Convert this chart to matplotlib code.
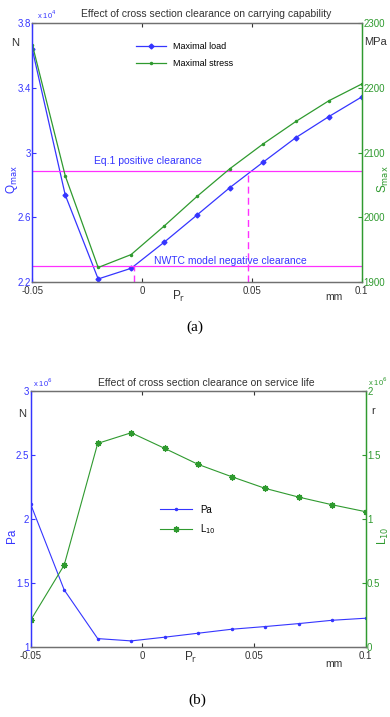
import matplotlib
matplotlib.use("Agg")
import matplotlib.pyplot as plt

plt.rcParams['font.family'] = ['Liberation Sans', 'DejaVu Sans']

# ---- data (a) ----
pr = [-0.05, -0.035, -0.02, -0.005, 0.01, 0.025, 0.04, 0.055, 0.07, 0.085, 0.1]
q_max = [3.639, 2.737, 2.217, 2.283, 2.444, 2.613, 2.783, 2.939, 3.092, 3.222, 3.344]  # x1e4 N
s_max = [2267, 2064, 1922, 1942, 1986, 2032, 2075, 2113, 2148, 2180, 2206]  # MPa
eq1_level = 2.885
nwtc_level = 2.295
eq1_x = 0.0484
nwtc_x = -0.0037

# ---- data (b) ----
pa = [2.116, 1.448, 1.068, 1.050, 1.079, 1.110, 1.141, 1.162, 1.185, 1.211, 1.227]  # x1e6 N
l10 = [0.211, 0.642, 1.591, 1.674, 1.552, 1.427, 1.331, 1.240, 1.172, 1.112, 1.058]  # x1e6 r

xticks = [-0.05, 0, 0.05, 0.1]
xticklabels = ['-0.05', '0', '0.05', '0.1']

BLUE = '#3535ff'
GREEN = '#2f9a2f'
MAG = '#ff30ff'
GRAY = '#707070'
FS = 7

fig = plt.figure(figsize=(3.9, 7.17), dpi=100)


def style(ax, ax2, lc, rc):
    for a in (ax, ax2):
        a.spines['top'].set_color(GRAY)
        a.spines['bottom'].set_color(GRAY)
        a.spines['left'].set_color(lc)
        a.spines['right'].set_color(rc)
        for s in a.spines.values():
            s.set_linewidth(0.9)
    ax.tick_params(axis='y', colors=lc, labelsize=FS, direction='in', length=3, pad=1)
    ax.tick_params(axis='x', colors='#333333', labelsize=FS, direction='in', length=3, pad=3, top=True)
    ax2.tick_params(axis='y', colors=rc, labelsize=FS, direction='in', length=3, pad=1)
    ax.set_xlim(-0.05, 0.1)
    ax.set_xticks(xticks)
    ax.set_xticklabels(xticklabels)


# ---------- (a) ----------
ax = fig.add_axes([0.0828, 0.6071, 0.8446, 0.3604])
ax2 = ax.twinx()
ax.plot(pr, q_max, color=BLUE, lw=0.9, marker='D', ms=2.5, label='Maximal load')
ax2.plot(pr, s_max, color=GREEN, lw=0.9, marker='.', ms=3, label='Maximal stress')
ax.axhline(eq1_level, color=MAG, lw=0.9)
ax.axhline(nwtc_level, color=MAG, lw=0.9)
ax.plot([eq1_x, eq1_x], [2.2, eq1_level], color=MAG, lw=1.0, ls=(0, (5, 3)))
ax.plot([nwtc_x, nwtc_x], [2.2, nwtc_level], color=MAG, lw=1.0, ls=(0, (5, 3)))
ax.set_ylim(2.2, 3.8)
ax.set_yticks([2.2, 2.6, 3.0, 3.4, 3.8])
ax.set_yticklabels(['2.2', '2.6', '3', '3.4', '3.8'])
ax2.set_ylim(1900, 2300)
ax2.set_yticks([1900, 2000, 2100, 2200, 2300])
style(ax, ax2, BLUE, GREEN)
ax.text(-0.022, 2.93, 'Eq.1 positive clearance', color=BLUE, fontsize=7.5)
ax.text(0.0055, 2.31, 'NWTC model negative clearance', color=BLUE, fontsize=7.5)

h1, l1 = ax.get_legend_handles_labels()
h2, l2 = ax2.get_legend_handles_labels()
ax2.legend(h1 + h2, l1 + l2, loc='upper left', bbox_to_anchor=(0.29, 0.96), frameon=False,
           fontsize=6.5, handlelength=3.3, labelspacing=0.9)

fig.text(0.528, 0.980, 'Effect of cross section clearance on carrying capability',
         ha='center', va='center', fontsize=7.5, color='#333333')
fig.text(0.095, 0.979, r'x 10$^4$', color=BLUE, fontsize=5.5, ha='left', va='center')
fig.text(0.040, 0.940, 'N', fontsize=8, ha='center', va='center', color='#333333')
fig.text(0.962, 0.941, 'MPa', fontsize=8, ha='center', va='center', color='#333333')
fig.text(0.030, 0.750, r'Q$_{\rm max}$', fontsize=8.5, ha='center', va='center', color=BLUE, rotation=90)
fig.text(0.982, 0.750, r'S$_{\rm max}$', fontsize=8.5, ha='center', va='center', color=GREEN, rotation=90)
fig.text(0.458, 0.587, r'P$_{\rm r}$', fontsize=8.5, ha='center', va='center', color='#333333')
fig.text(0.855, 0.586, 'mm', fontsize=7.5, ha='center', va='center', color='#333333')
fig.text(0.5, 0.543, '(a)', fontsize=11, ha='center', va='center', family='Liberation Serif')

# ---------- (b) ----------
bx = fig.add_axes([0.0787, 0.0972, 0.859, 0.3575])
bx2 = bx.twinx()
bx.plot(pr, pa, color=BLUE, lw=0.8, marker='.', ms=3, label='Pa')
bx2.plot(pr, l10, color=GREEN, lw=0.8, marker=(8, 2, 0), ms=4.5, mew=0.9, label=r'L$_{10}$')
bx.set_ylim(1, 3)
bx.set_yticks([1, 1.5, 2, 2.5, 3])
bx.set_yticklabels(['1', '1.5', '2', '2.5', '3'])
bx2.set_ylim(0, 2)
bx2.set_yticks([0, 0.5, 1, 1.5, 2])
bx2.set_yticklabels(['0', '0.5', '1', '1.5', '2'])
style(bx, bx2, BLUE, GREEN)

h1, l1 = bx.get_legend_handles_labels()
h2, l2 = bx2.get_legend_handles_labels()
bx2.legend(h1 + h2, l1 + l2, loc='upper left', bbox_to_anchor=(0.36, 0.59), frameon=False,
           fontsize=7, handlelength=3.3, labelspacing=0.8)

fig.text(0.528, 0.4655, 'Effect of cross section clearance on service life',
         ha='center', va='center', fontsize=7.5, color='#333333')
fig.text(0.085, 0.466, r'x 10$^6$', color=BLUE, fontsize=5.5, ha='left', va='center')
fig.text(0.943, 0.468, r'x 10$^6$', color=GREEN, fontsize=5.5, ha='left', va='center')
fig.text(0.057, 0.423, 'N', fontsize=8, ha='center', va='center', color='#333333')
fig.text(0.958, 0.427, 'r', fontsize=8, ha='center', va='center', color='#333333')
fig.text(0.030, 0.253, 'Pa', fontsize=8.5, ha='center', va='center', color=BLUE, rotation=90)
fig.text(0.982, 0.253, r'L$_{10}$', fontsize=8.5, ha='center', va='center', color=GREEN, rotation=90)
fig.text(0.49, 0.0825, r'P$_{\rm r}$', fontsize=8.5, ha='center', va='center', color='#333333')
fig.text(0.855, 0.0745, 'mm', fontsize=7.5, ha='center', va='center', color='#333333')
fig.text(0.505, 0.024, '(b)', fontsize=11, ha='center', va='center', family='Liberation Serif')

fig.savefig('out.png', dpi=100)
